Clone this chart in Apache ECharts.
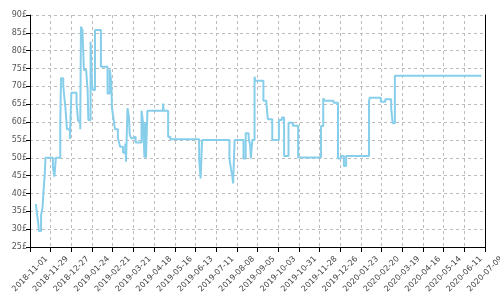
<!DOCTYPE html>
<html>
<head>
<meta charset="utf-8">
<script src="https://cdn.jsdelivr.net/npm/echarts@6/dist/echarts.min.js"></script>
<style>html,body{margin:0;padding:0;background:#fff}#c{width:500px;height:300px}</style>
</head>
<body>
<div id="c"></div>
<script>
var startDate = '2018-11-01';
var endDate = '2020-07-09';
var dates = [
'2018-11-09','2018-11-10','2018-11-12','2018-11-13','2018-11-16','2018-11-18','2018-11-19','2018-11-21','2018-11-22',
'2018-12-02','2018-12-04','2018-12-06','2018-12-12','2018-12-13','2018-12-16','2018-12-17','2018-12-19','2018-12-20','2018-12-21','2018-12-25','2018-12-27',
'2019-01-03','2019-01-05','2019-01-08','2019-01-09','2019-01-11','2019-01-13','2019-01-16','2019-01-18','2019-01-19','2019-01-22','2019-01-23','2019-01-24','2019-01-25','2019-01-28',
'2019-02-05','2019-02-14','2019-02-17','2019-02-19','2019-02-20','2019-02-22','2019-02-24','2019-02-28',
'2019-03-01','2019-03-03','2019-03-07','2019-03-10','2019-03-11','2019-03-13','2019-03-15','2019-03-16','2019-03-18','2019-03-21','2019-03-24',
'2019-04-01','2019-04-03','2019-04-05','2019-04-06','2019-04-07','2019-04-09','2019-04-30',
'2019-05-01','2019-05-07','2019-05-10',
'2019-06-18','2019-06-20','2019-06-22','2019-06-29','2019-07-01',
'2019-07-29','2019-07-31','2019-08-02','2019-08-03','2019-08-05','2019-08-17','2019-08-20','2019-08-24','2019-08-26','2019-08-27','2019-08-29',
'2019-09-01','2019-09-02','2019-09-13','2019-09-17','2019-09-19','2019-09-25',
'2019-10-04','2019-10-08','2019-10-11','2019-10-17','2019-10-23','2019-10-30',
'2019-11-30','2019-12-03','2019-12-05','2019-12-17','2019-12-23','2019-12-27','2019-12-31',
'2020-01-03','2020-02-03','2020-02-04','2020-02-19','2020-02-25','2020-03-04','2020-03-06','2020-03-09','2020-07-04'
];
var prices = [
37,35,32,29.5,34,36,39.6,45.7,50,
47.5,44.7,50,60,72.3,70.4,68,63.9,61,58,55.3,68.2,
65.4,60.4,58,86.7,85.8,74.6,74.1,69,60.6,82.5,83,70.4,69,85.8,
75.5,68,74.8,71.3,63.9,61,58,55.5,
54.8,53.1,51.4,54,48.9,63.9,61.3,56.4,55.5,55.9,54.3,
63.2,60,50,60,50,63.2,65.2,
63.2,55.9,55.2,
49.4,44.2,55,54.5,55,
49.8,47,44.7,42.8,55,49.8,56.9,55.5,53.5,49.8,55,
72.7,71.6,66,65.4,60.8,55,
60.6,61.3,50.5,59.8,59,50.1,
58.9,66.7,66,65.4,49.8,50.5,47.7,
50.5,66,66.8,65.7,66.4,63.9,59.7,73,73
];
var yTicks = [25,30,35,40,45,50,55,60,65,70,75,80,85,90];

var DAY = 86400000;
function ts(s){var p=s.split('-');return Date.UTC(+p[0],+p[1]-1,+p[2]);}
var t0 = ts(startDate);
function dayOf(s){return Math.round((ts(s)-t0)/DAY);}
function fmt(d){var dt=new Date(t0+d*DAY);var m=dt.getUTCMonth()+1,dd=dt.getUTCDate();
  return dt.getUTCFullYear()+'-'+(m<10?'0':'')+m+'-'+(dd<10?'0':'')+dd;}
var data = dates.map(function(d,i){return [dayOf(d), prices[i]];});

var chart = echarts.init(document.getElementById('c'), null, {renderer:'canvas'});
var gridLine = {show:true, lineStyle:{color:'#bbbbbb', type:[3,3], width:1}};
chart.setOption({
  animation:false,
  grid:{left:30, right:15, top:15, bottom:53, containLabel:false, outerBoundsMode:'none'},
  xAxis:{
    type:'value', min:0, max:dayOf(endDate), interval:28,
    axisLine:{show:true, onZero:false, lineStyle:{color:'#000', width:1}},
    axisTick:{show:true, length:5, lineStyle:{color:'#000'}},
    splitLine:gridLine,
    axisLabel:{rotate:45, fontSize:8, color:'#444', margin:27, align:'center', verticalAlign:'middle',
      fontFamily:'DejaVu Sans', hideOverlap:false, formatter:function(v){return fmt(v);}}
  },
  yAxis:[{
    type:'value', min:yTicks[0], max:yTicks[yTicks.length-1], interval:5,
    axisLine:{show:true, lineStyle:{color:'#000', width:1}},
    axisTick:{show:true, length:4, lineStyle:{color:'#000'}},
    splitLine:gridLine,
    axisLabel:{fontSize:8, color:'#555', margin:3, fontFamily:'DejaVu Sans', formatter:function(v){return v+'£';}}
  },{
    type:'value', min:yTicks[0], max:yTicks[yTicks.length-1], interval:5, position:'right',
    axisLine:{show:true, lineStyle:{color:'#000', width:1}},
    axisTick:{show:false}, axisLabel:{show:false}, splitLine:{show:false}
  }],
  series:[{
    type:'line', step:'end', data:data, showSymbol:false, symbol:'none',
    lineStyle:{color:'#87CEEB', width:2}, itemStyle:{color:'#87CEEB'}
  }]
});
</script>
</body>
</html>
